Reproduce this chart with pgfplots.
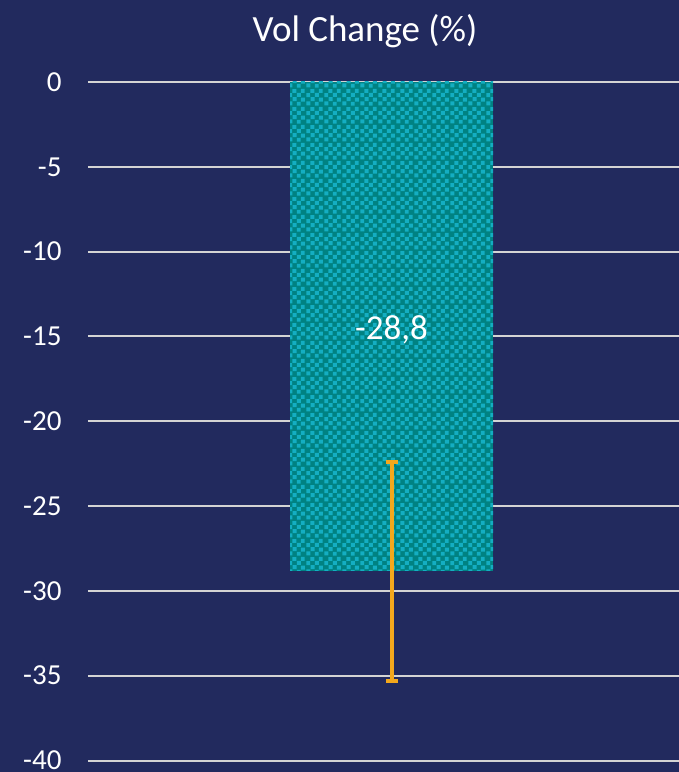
\documentclass[border=0pt]{standalone}
\usepackage{pgfplots}
\pgfplotsset{compat=1.18}
\usepackage{fontspec}
\setmainfont{Carlito}
\usetikzlibrary{patterns.meta}

\definecolor{bgnavy}{HTML}{222A5E}
\definecolor{barteal}{HTML}{008282}
\definecolor{barlight}{HTML}{14AEC2}
\definecolor{errorange}{HTML}{F4A81C}
\definecolor{gridgray}{HTML}{D4D4D4}

% small staggered-square fill for the bar
\tikzdeclarepattern{
  name=confetti,
  type=uncolored,
  bottom left={(0pt,0pt)},
  top right={(18pt,18pt)},
  tile size={(18pt,18pt)},
  code={
    \fill (0.5pt,0.7pt) rectangle (4.6pt,4.8pt);
    \fill (9.2pt,0.3pt) rectangle (13.3pt,4.4pt);
    \fill (4.9pt,5.2pt) rectangle (9.0pt,9.3pt);
    \fill (13.6pt,4.7pt) rectangle (17.7pt,8.8pt);
    \fill (0.3pt,9.4pt) rectangle (4.4pt,13.5pt);
    \fill (9.4pt,9.6pt) rectangle (13.5pt,13.7pt);
    \fill (4.7pt,13.7pt) rectangle (8.8pt,17.8pt);
    \fill (13.4pt,13.9pt) rectangle (17.5pt,18.0pt);
  }
}

\begin{document}
\begin{tikzpicture}
  \fill[bgnavy] (0pt,0pt) rectangle (679pt,772pt);
  \useasboundingbox (0pt,0pt) rectangle (679pt,772pt);
  \node[text=white, font=\fontsize{37}{44}\selectfont] at (365pt,741pt) {Vol Change (\%)};
  \begin{axis}[
    at={(88pt,11.5pt)}, anchor=south west,
    scale only axis,
    width=591pt, height=678.5pt,
    xmin=-1, xmax=0.947,
    ymin=-40, ymax=0,
    ybar, bar width=203pt,
    axis line style={draw=none},
    xtick=\empty,
    ytick={-40,-35,-30,-25,-20,-15,-10,-5,0},
    yticklabels={-40,-35,-30,-25,-20,-15,-10,-5,0},
    ytick style={draw=none},
    yticklabel style={text=white, font=\fontsize{29}{34}\selectfont,
      xshift=-23pt, inner ysep=0pt},
    ymajorgrids,
    grid style={gridgray, line width=2pt},
    clip=false,
  ]
    \addplot[
      fill=barteal, draw=none,
      postaction={pattern={confetti}, pattern color=barlight},
      error bars/.cd,
        y dir=both, y explicit,
        error bar style={errorange, line width=4pt},
        error mark options={rotate=90, mark size=6pt, line width=4pt, errorange},
    ] coordinates {(0,-28.8) += (0,6.4) -= (0,6.5)};
    \node[text=white, font=\fontsize{35}{42}\selectfont] at (axis cs:0,-14.6) {-28,8};
  \end{axis}
\end{tikzpicture}
\end{document}
